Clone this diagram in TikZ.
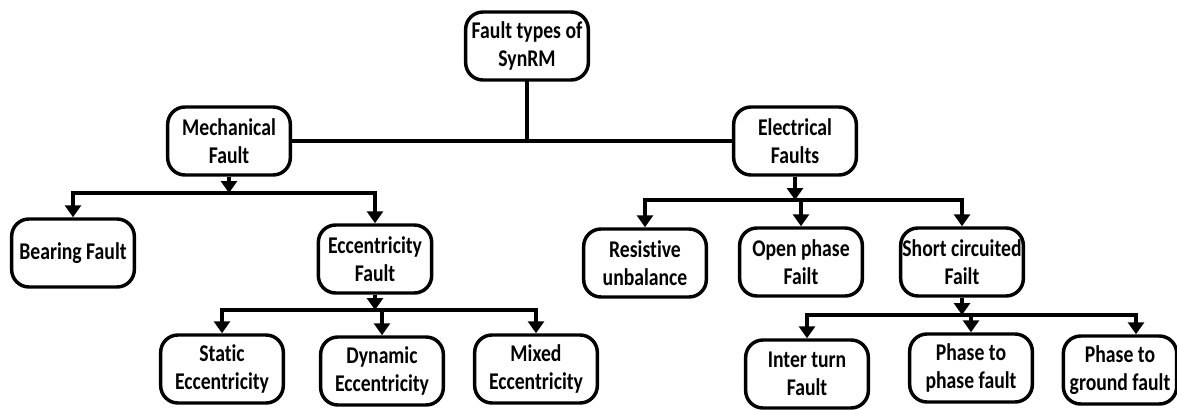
\documentclass[tikz,border=0pt]{standalone}
\usepackage{fontspec}
\setmainfont[FakeStretch=0.82,Ligatures=NoCommon]{Carlito}
\usetikzlibrary{arrows.meta}
\usetikzlibrary{positioning}

\begin{document}
\begin{tikzpicture}[x=0.75pt,y=-0.75pt]
\tikzstyle{fault}=[rectangle,rounded corners=13pt,draw=black,line width=2.6pt,
align=center,inner sep=0pt,minimum width=92pt,minimum height=51pt,
font=\bfseries\fontsize{18}{21}\selectfont]
\tikzstyle{bus}=[line width=3pt,line cap=rect]
\tikzstyle{feed}=[line width=3pt,-{Triangle[width=12pt,length=9pt]}]

\useasboundingbox (0,0) rectangle (1177,410);

% top level
\node[fault] (root) at (527,46) {Fault types of\\SynRM};
\node[fault] (mech) at (229,141) {Mechanical\\Fault};
\node[fault] (elec) at (795,141) {Electrical\\Faults};

% mechanical side
\node[fault] (bearing) at (73,253) {Bearing Fault};
\node[fault,minimum width=85pt] (ecc) at (375,259) {Eccentricity\\Fault};
\node[fault] (static) at (222,369) {Static\\Eccentricity};
\node[fault] (dynamic) at (382,371) {Dynamic\\Eccentricity};
\node[fault] (mixed) at (536,369) {Mixed\\Eccentricity};

% electrical side
\node[fault] (resist) at (645,263) {Resistive\\unbalance};
\node[fault] (openph) at (801,262) {Open phase\\Failt};
\node[fault] (shortc) at (962,262) {Short circuited\\Failt};
\node[fault] (inter) at (807,374) {Inter turn\\Fault};
\node[fault] (ptop) at (971,368) {Phase to\\phase fault};
\node[fault,minimum width=85pt] (ptog) at (1120,370) {Phase to\\ground fault};

% bus levels
\coordinate (mbus) at (0,193);
\coordinate (ebus) at (0,310);
\coordinate (lbus) at (0,200);
\coordinate (sbus) at (0,315);

\draw[bus] (root.south) -- (root.south |- mech.east);
\draw[bus] (mech.east) -- (elec.west);

\draw[feed] (mech.south) -- (mech.south |- mbus);
\draw[bus] (bearing.north |- mbus) -- (ecc.north |- mbus);
\draw[feed] (bearing.north |- mbus) -- (bearing.north);
\draw[feed] (ecc.north |- mbus) -- (ecc.north);

\draw[feed] (ecc.south) -- (ecc.south |- ebus);
\draw[bus] (static.north |- ebus) -- (mixed.north |- ebus);
\draw[feed] (static.north |- ebus) -- (static.north);
\draw[feed] (dynamic.north |- ebus) -- (dynamic.north);
\draw[feed] (mixed.north |- ebus) -- (mixed.north);

\draw[feed] (elec.south) -- (elec.south |- lbus);
\draw[bus] (resist.north |- lbus) -- (shortc.north |- lbus);
\draw[feed] (resist.north |- lbus) -- (resist.north);
\draw[feed] (openph.north |- lbus) -- (openph.north);
\draw[feed] (shortc.north |- lbus) -- (shortc.north);

\draw[feed] (shortc.south) -- (shortc.south |- sbus);
\draw[bus] (inter.north |- sbus) -- ([xshift=12pt]ptog.north |- sbus);
\draw[feed] (inter.north |- sbus) -- (inter.north);
\draw[feed] (ptop.north |- sbus) -- (ptop.north);
\draw[feed] ([xshift=12pt]ptog.north |- sbus) -- ([xshift=12pt]ptog.north);
\end{tikzpicture}
\end{document}
